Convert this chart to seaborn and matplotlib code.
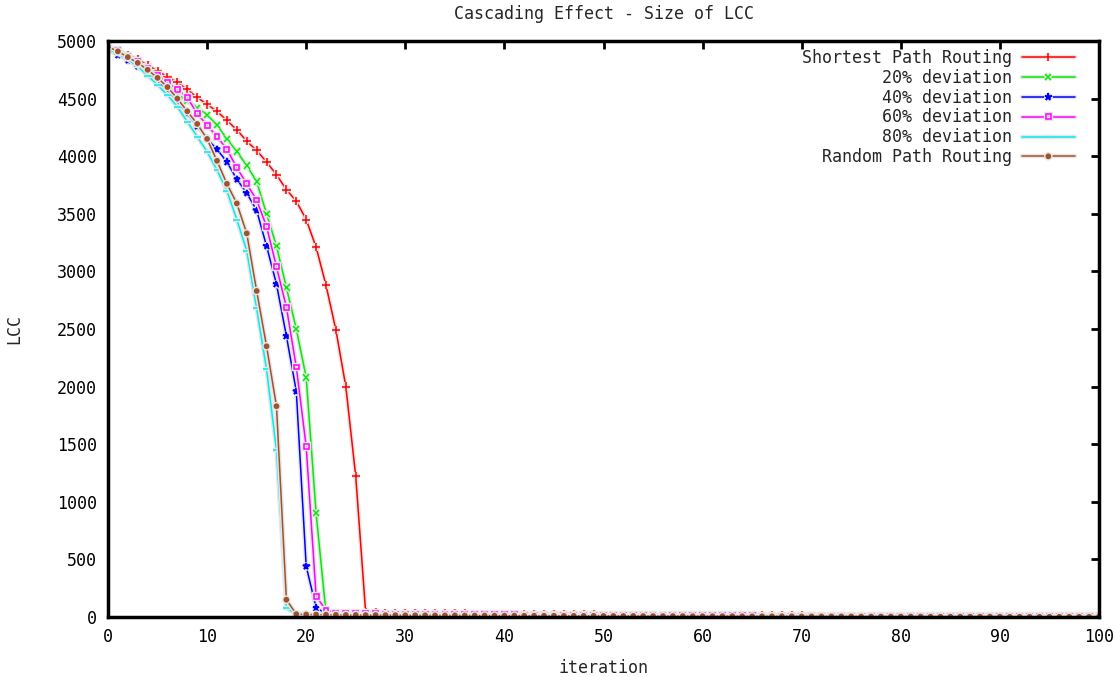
import matplotlib
matplotlib.use("Agg")
import matplotlib.pyplot as plt
import matplotlib.patheffects as pe
import seaborn as sns
import pandas as pd

# ---------------- data ----------------
iterations = list(range(101))

series_names = ["Shortest Path Routing", "20% deviation", "40% deviation",
                "60% deviation", "80% deviation", "Random Path Routing"]

shortest_head = [4950, 4920, 4880, 4840, 4790, 4740, 4690, 4640, 4580, 4510,
                 4450, 4390, 4310, 4230, 4130, 4050, 3950, 3840, 3710, 3610,
                 3450, 3210, 2880, 2490, 2000, 1220]
shortest_tail = [40, 38, 37, 36, 35, 33, 32, 31, 30, 30,
                 29, 28, 27, 27, 26, 25, 25, 24, 23, 23,
                 22, 22, 21, 21, 20, 20, 19, 19, 18, 18,
                 17, 17, 16, 16, 15, 15, 15, 14, 14, 13,
                 13, 13, 12, 12, 12, 11, 11, 11, 10, 10,
                 10, 9, 9, 9, 8, 8, 8, 8, 7, 7,
                 7, 7, 6, 6, 6, 6, 5, 5, 5, 5,
                 4, 4, 4, 4, 4]

dev20_head = [4950, 4900, 4850, 4790, 4730, 4670, 4600, 4540, 4480, 4420,
              4360, 4270, 4150, 4040, 3920, 3780, 3500, 3220, 2860, 2500,
              2080, 900]
dev20_tail = [35, 30, 28, 26, 25, 24, 23, 22, 21, 20,
              20, 19, 19, 18, 18, 17, 17, 16, 16, 15,
              15, 15, 14, 14, 14, 13, 13, 13, 12, 12,
              12, 11, 11, 11, 10, 10, 10, 10, 9, 9,
              9, 9, 8, 8, 8, 8, 7, 7, 7, 7,
              7, 6, 6, 6, 6, 6, 5, 5, 5, 5,
              5, 5, 4, 4, 4, 4, 4, 4, 3, 3,
              3, 3, 3, 3, 3, 3, 2, 2, 2]

dev40_head = [4920, 4880, 4830, 4780, 4720, 4650, 4580, 4480, 4370, 4260,
              4150, 4060, 3950, 3800, 3680, 3530, 3220, 2890, 2440, 1960,
              440, 80]
dev40_tail = [30, 27, 25, 24, 22, 21, 20, 19, 19, 18,
              17, 17, 16, 16, 15, 15, 14, 14, 13, 13,
              13, 12, 12, 12, 11, 11, 11, 10, 10, 10,
              10, 9, 9, 9, 9, 8, 8, 8, 8, 7,
              7, 7, 7, 7, 6, 6, 6, 6, 6, 5,
              5, 5, 5, 5, 5, 4, 4, 4, 4, 4,
              4, 4, 3, 3, 3, 3, 3, 3, 3, 3,
              2, 2, 2, 2, 2, 2, 2, 2, 2]

dev60_head = [4950, 4920, 4870, 4820, 4760, 4700, 4640, 4580, 4510, 4370,
              4270, 4170, 4060, 3900, 3760, 3620, 3390, 3040, 2690, 2170,
              1480, 180, 60]
dev60_tail = [35, 32, 30, 28, 27, 26, 25, 24, 23, 22,
              22, 21, 21, 20, 20, 19, 19, 18, 18, 17,
              17, 16, 16, 16, 15, 15, 15, 14, 14, 14,
              13, 13, 13, 12, 12, 12, 11, 11, 11, 10,
              10, 10, 10, 9, 9, 9, 9, 8, 8, 8,
              8, 7, 7, 7, 7, 6, 6, 6, 6, 6,
              5, 5, 5, 5, 5, 4, 4, 4, 4, 4,
              4, 3, 3, 3, 3, 3, 3, 3]

dev80_head = [4930, 4890, 4840, 4780, 4700, 4620, 4530, 4430, 4300, 4170,
              4040, 3880, 3700, 3450, 3180, 2680, 2150, 1450, 75]
dev80_tail = [30, 28, 26, 25, 24, 23, 22, 22, 21, 20,
              20, 19, 19, 18, 18, 17, 17, 16, 16, 16,
              15, 15, 14, 14, 14, 13, 13, 13, 12, 12,
              12, 11, 11, 11, 10, 10, 10, 10, 9, 9,
              9, 9, 8, 8, 8, 8, 7, 7, 7, 7,
              7, 6, 6, 6, 6, 6, 5, 5, 5, 5,
              5, 5, 4, 4, 4, 4, 4, 4, 3, 3,
              3, 3, 3, 3, 3, 3, 2, 2, 2, 2,
              2, 2]

random_head = [4950, 4910, 4860, 4810, 4750, 4680, 4600, 4500, 4390, 4280,
               4150, 3960, 3760, 3590, 3330, 2830, 2350, 1830, 150]
random_tail = [25, 22, 21, 20, 19, 18, 18, 17, 17, 16,
               16, 15, 15, 15, 14, 14, 14, 13, 13, 13,
               12, 12, 12, 11, 11, 11, 11, 10, 10, 10,
               10, 9, 9, 9, 9, 8, 8, 8, 8, 8,
               7, 7, 7, 7, 7, 6, 6, 6, 6, 6,
               6, 5, 5, 5, 5, 5, 5, 4, 4, 4,
               4, 4, 4, 4, 3, 3, 3, 3, 3, 3,
               3, 3, 2, 2, 2, 2, 2, 2, 2, 2,
               2, 2]

x_ticks = [0, 10, 20, 30, 40, 50, 60, 70, 80, 90, 100]
y_ticks = [0, 500, 1000, 1500, 2000, 2500, 3000, 3500, 4000, 4500, 5000]

# ---------------- style ----------------
series_values = [shortest_head + shortest_tail, dev20_head + dev20_tail,
                 dev40_head + dev40_tail, dev60_head + dev60_tail,
                 dev80_head + dev80_tail, random_head + random_tail]
colors = ["#ff0000", "#00ee00", "#0000ff", "#ff00ff", "#00eeee", "#a0522d"]
markers = ["+", "x", "*", "s", "_", "o"]
msizes = [6, 4.5, 5, 3.5, 5, 3]
mfcs = ["#ff0000", "#00ee00", "#0000ff", "none", "#00eeee", "#a0522d"]

sns.set_theme(style="white")
plt.rcParams["font.family"] = ["DejaVu Sans Mono", "DejaVu Sans"]
FS = 12

fig, ax = plt.subplots(figsize=(11.16, 6.77), dpi=100)
fig.subplots_adjust(left=108 / 1116, right=1099 / 1116,
                    top=1 - 41 / 677, bottom=1 - 617 / 677)

halo = [pe.Stroke(linewidth=3.2, foreground="#e6e6e6"), pe.Normal()]
for name, vals, c, m, ms, mfc in zip(series_names, series_values, colors,
                                     markers, msizes, mfcs):
    df = pd.DataFrame({"iteration": iterations[:len(vals)], "LCC": vals})
    sns.lineplot(data=df, x="iteration", y="LCC", ax=ax, color=c, marker=m,
                 markersize=ms, markerfacecolor=mfc, markeredgecolor=c,
                 markeredgewidth=1.1, linewidth=1.1, label=name,
                 path_effects=halo)

ax.set_xlim(0, 100)
ax.set_ylim(0, 5000)
ax.set_xticks(x_ticks)
ax.set_yticks(y_ticks)
ax.tick_params(direction="in", length=6, width=2, top=True, right=True,
               labelsize=FS, colors="black", pad=8)
for s in ax.spines.values():
    s.set_linewidth(2.5)
    s.set_color("black")

ax.set_title("Cascading Effect - Size of LCC", fontsize=FS, pad=16)
ax.set_xlabel("iteration", fontsize=FS, labelpad=9)
ax.set_ylabel("LCC", fontsize=FS, labelpad=24)

handles, labels = ax.get_legend_handles_labels()
leg = ax.legend(handles, labels, loc="upper right",
                bbox_to_anchor=((1075 - 108) / 991, 1 - (49 - 41) / 576),
                frameon=False, markerfirst=False, fontsize=FS,
                handlelength=3.2, handletextpad=0.6, labelspacing=0.11,
                borderpad=0, borderaxespad=0)

fig.savefig("out.png", dpi=100)
